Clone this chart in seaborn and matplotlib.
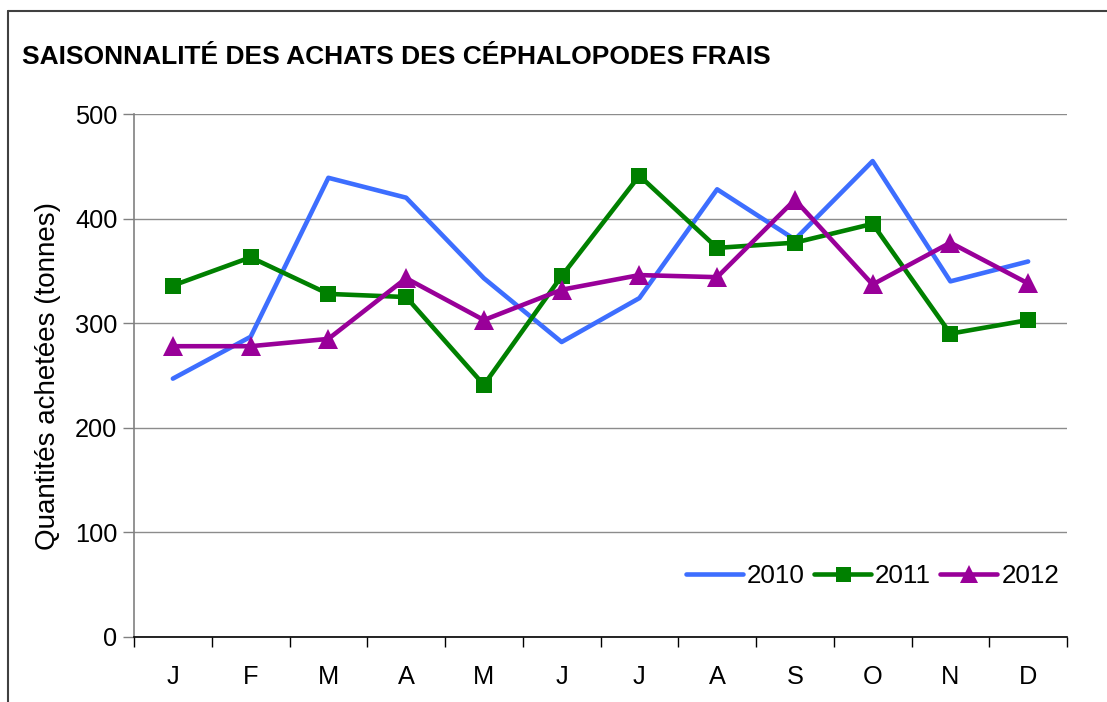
import matplotlib
matplotlib.use("Agg")
import matplotlib.pyplot as plt
from matplotlib.lines import Line2D
import numpy as np
import pandas as pd
import seaborn as sns

months = ["J", "F", "M", "A", "M", "J", "J", "A", "S", "O", "N", "D"]
years = ["2010", "2011", "2012"]
v2010 = [247, 287, 439, 420, 343, 282, 324, 428, 380, 455, 340, 359]
v2011 = [336, 363, 328, 325, 241, 345, 441, 372, 377, 395, 290, 303]
v2012 = [278, 278, 285, 343, 303, 332, 346, 344, 418, 337, 377, 338]

colors = {"2010": "#3D6EFF", "2011": "#008000", "2012": "#990099"}
markers = {"2010": None, "2011": "s", "2012": "^"}
msizes = {"2010": 0, "2011": 12, "2012": 14}

sns.set_theme(style="white")
plt.rcParams["font.family"] = ["Liberation Sans", "DejaVu Sans"]
plt.rcParams["text.color"] = "black"
plt.rcParams["axes.labelcolor"] = "black"
plt.rcParams["xtick.color"] = "black"
plt.rcParams["ytick.color"] = "black"

fig = plt.figure(figsize=(11.07, 7.02), dpi=100)
W, H = 1107, 702
ax = fig.add_axes([134 / W, 1 - 637 / H, (1067 - 134) / W, (637 - 114) / H])

df = pd.DataFrame({
    "pos": list(range(12)) * 3,
    "val": v2010 + v2011 + v2012,
    "year": [y for y in years for _ in range(12)],
})

for y in years:
    sub = df[df["year"] == y]
    sns.lineplot(data=sub, x="pos", y="val", ax=ax, color=colors[y],
                 marker=markers[y], markersize=msizes[y], linewidth=3.3,
                 markeredgewidth=0, label=y, legend=False)

ax.set_xlim(-0.5, 11.5)
ax.set_ylim(0, 500)
ax.set_yticks(range(0, 501, 100))
ax.set_xticks(range(12))
ax.set_xticklabels(months)
ax.set_xticks(np.arange(-0.5, 12, 1), minor=True)
ax.tick_params(axis="x", which="major", length=0, pad=20, labelsize=18.3)
ax.tick_params(axis="x", which="minor", length=7, width=1, color="black",
               direction="out", bottom=True)
ax.tick_params(axis="y", length=8, width=1, color="#808080", direction="out",
               left=True, labelsize=18.3, labelcolor="black", pad=4)
ax.set_xlabel("")
ax.set_ylabel("Quantités achetées (tonnes)", fontsize=20, labelpad=10)

ax.grid(axis="y", color="#8C8C8C", linewidth=1)
ax.grid(axis="x", visible=False)
for s in ["top", "right"]:
    ax.spines[s].set_visible(False)
ax.spines["left"].set_color("#808080")
ax.spines["left"].set_linewidth(1.2)
ax.spines["bottom"].set_color("black")
ax.spines["bottom"].set_linewidth(1.2)

handles = [Line2D([], [], color=colors[y], marker=markers[y], markersize=msizes[y] * 0.9,
                  linewidth=3.3, markeredgewidth=0, solid_capstyle="round") for y in years]
ax.legend(handles, years, loc="lower right", bbox_to_anchor=(1.011, 0.058), ncol=3,
          frameon=False, fontsize=18.7, handlelength=2.2, handletextpad=0.15,
          columnspacing=0.35, borderaxespad=0.3)

fig.text(22 / W, 1 - 57 / H, "SAISONNALITÉ DES ACHATS DES CÉPHALOPODES FRAIS",
         fontsize=19, fontweight="bold", ha="left", va="center")

# outer frame of the chart area
fig.add_artist(Line2D([8 / W, 1.0], [1 - 11 / H, 1 - 11 / H], transform=fig.transFigure,
                      color="#404040", linewidth=1.5))
fig.add_artist(Line2D([8 / W, 8 / W], [0.0, 1 - 11 / H], transform=fig.transFigure,
                      color="#404040", linewidth=1.5))

fig.savefig("out.png", dpi=100, facecolor="white")
